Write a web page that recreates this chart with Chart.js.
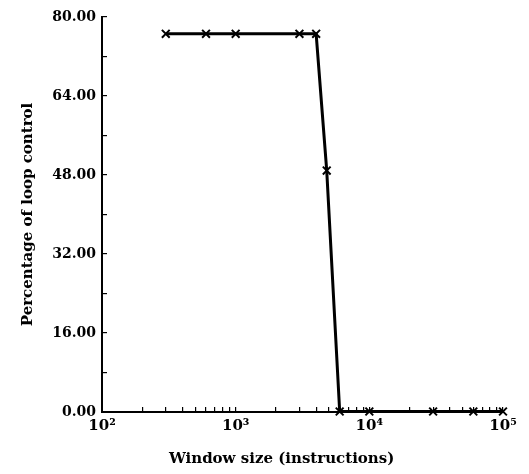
<!DOCTYPE html>
<html>
<head>
<meta charset="utf-8">
<script src="https://cdn.jsdelivr.net/npm/chart.js@4.4.1/dist/chart.umd.min.js"></script>
<style>
html,body{margin:0;padding:0;background:#fff;}
#wrap{width:529px;height:474px;position:relative;}
</style>
</head>
<body>
<div id="wrap"><canvas id="c" width="529" height="474"></canvas></div>
<script>
const windowSizes = [300, 600, 1000, 3000, 4000, 4800, 6000, 10000, 30000, 60000, 100000];
const loopControlPct = [76.6, 76.6, 76.6, 76.6, 76.6, 48.9, 0.1, 0.1, 0.1, 0.1, 0.1];
const xMajorTicks = [100, 1000, 10000, 100000];
const xTickLabels = ['10²', '10³', '10⁴', '10⁵'];
const yTickValues = [0, 16, 32, 48, 64, 80];

const fontFamily = "'DejaVu Serif', 'Liberation Serif', serif";

const xTicks = [];
for (let d = 100; d <= 100000; d *= 10) {
  for (let m = 1; m <= 9; m++) {
    const v = d * m;
    if (v <= 100000) xTicks.push(v);
  }
}

new Chart(document.getElementById('c'), {
  type: 'line',
  data: {
    datasets: [{
      data: windowSizes.map((x, i) => ({x: x, y: loopControlPct[i]})),
      borderColor: '#000',
      borderWidth: 3,
      pointStyle: 'crossRot',
      pointRadius: 5.5,
      pointBorderWidth: 2,
      pointBorderColor: '#000',
      pointBackgroundColor: '#000',
      tension: 0,
      clip: false
    }]
  },
  options: {
    responsive: false,
    animation: false,
    devicePixelRatio: 1,
    layout: {padding: {top: 17, right: 26, left: 0, bottom: 0}},
    plugins: {legend: {display: false}, tooltip: {enabled: false}},
    scales: {
      x: {
        type: 'logarithmic',
        min: 100,
        max: 100000,
        afterBuildTicks: (s) => { s.ticks = xTicks.map(v => ({value: v})); },
        afterFit: (s) => { s.height = 62; s.paddingLeft = 0; s.paddingRight = 0; },
        border: {display: true, color: '#000', width: 2},
        grid: {drawOnChartArea: false, color: '#000', lineWidth: 1.2, tickLength: -5},
        ticks: {
          autoSkip: false,
          maxRotation: 0,
          color: '#000',
          padding: 10,
          font: {family: fontFamily, size: 15, weight: 'bold'},
          callback: function(v) {
            const idx = xMajorTicks.indexOf(v);
            return idx >= 0 ? xTickLabels[idx] : '';
          }
        },
        title: {
          display: true,
          text: 'Window size (instructions)        ',
          color: '#000',
          font: {family: fontFamily, size: 15, weight: 'bold'},
          padding: {top: 1, bottom: 6}
        }
      },
      y: {
        min: 0,
        max: 80,
        afterFit: (s) => { s.width = 102; s.paddingTop = 0; s.paddingBottom = 0; },
        border: {display: true, color: '#000', width: 2},
        grid: {drawOnChartArea: false, color: '#000', lineWidth: 1.2, tickLength: -5},
        ticks: {
          stepSize: 8,
          color: '#000',
          padding: 11,
          font: {family: fontFamily, size: 14, weight: 'bold'},
          callback: function(v) {
            return yTickValues.indexOf(v) >= 0 ? v.toFixed(2) : '';
          }
        },
        title: {
          display: true,
          text: 'Percentage of loop control',
          color: '#000',
          font: {family: fontFamily, size: 15, weight: 'bold'},
          padding: {top: 19, bottom: 6}
        }
      }
    }
  }
});
</script>
</body>
</html>
